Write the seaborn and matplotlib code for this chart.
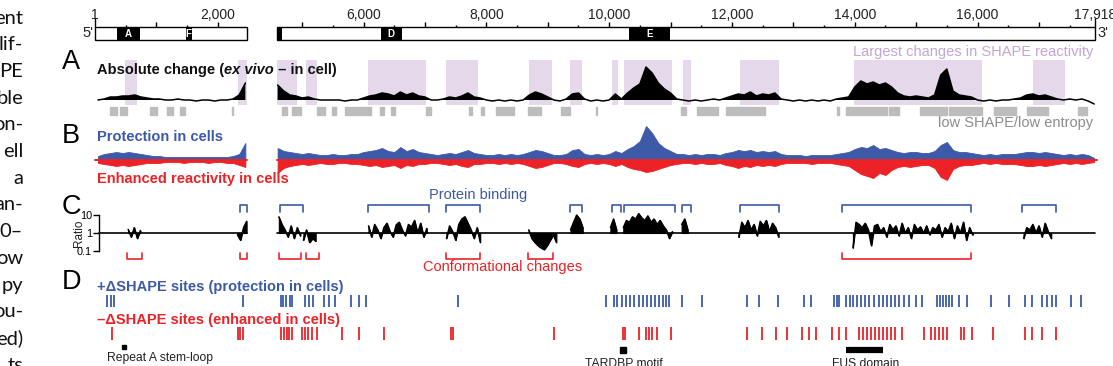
import numpy as np
import matplotlib
matplotlib.use("Agg")
import matplotlib.pyplot as plt
from matplotlib.patches import Rectangle
from matplotlib.ticker import NullLocator
import seaborn as sns

sns.set_theme(style="white")
plt.rcParams['font.family'] = ['Liberation Sans', 'DejaVu Sans']

BLUE = '#3c5aa8'
RED = '#ec2227'
PURPLE = '#e4d8ea'
PURPLE_TXT = '#c3a5d6'
GREY = '#bdbdbd'
GREY_TXT = '#8c8c8c'

# ---- data, positions in nucleotides ----
mapped_start = [1, 4585]
mapped_end = [2470, 17918]

domain_name = ['A', 'F', '', 'D', 'E']
domain_start = [358, 1475, 4585, 6277, 10315]
domain_end = [732, 1582, 4665, 6620, 10997]

scale_labels = [1, 2000, 6000, 8000, 10000, 12000, 14000, 16000, 17918]

# largest changes in SHAPE reactivity (purple boxes)
large_start = [490, 2330, 4585, 5055, 6080, 7345, 8690, 9370, 10040, 10235, 11195, 12125, 13990, 16910]
large_end = [680, 2470, 4910, 5235, 7010, 7870, 9065, 9550, 10150, 11030, 11325, 12760, 16080, 17430]

# low SHAPE / low entropy (grey bars)
low_start = [245, 405, 895, 1170, 1380, 2225, 4665, 4830, 5235, 5480, 5705, 6275, 6440, 7025, 7710,
             7920, 8165, 8685, 9210, 9780, 11165, 11425, 11895, 12300, 13705, 13850, 14550, 15070,
             15530, 15740, 16260, 16800, 17630]
low_end = [360, 520, 1010, 1270, 1465, 2245, 4745, 4975, 5380, 5545, 6115, 6325, 6520, 7105, 7760,
           7955, 8445, 8885, 9370, 9795, 11245, 11780, 12270, 12545, 13740, 14520, 14715, 15495,
           15725, 16065, 16620, 17155, 17790]

# profiles sampled every 100 nt
pos_left = np.arange(50, 2500, 100)
pos_right = np.arange(4600, 18000, 100)

abs_left = [5, 6, 8, 8, 9, 9, 10, 8, 7, 6, 6, 5, 5, 6, 5, 5, 4, 5, 5, 4, 5, 5, 6, 10, 22]
abs_right = [20, 14, 10, 9, 7, 8, 6, 5, 5, 5,
             5, 4, 5, 5, 7, 9, 10, 12, 11, 9,
             13, 10, 12, 9, 8, 5, 5, 6, 8, 7,
             9, 12, 8, 7, 5, 4, 5, 4, 5, 4,
             5, 10, 13, 11, 8, 5, 4, 6, 11, 12,
             6, 4, 5, 4, 5, 11, 6, 12, 17, 21,
             38, 32, 22, 16, 12, 6, 5, 4, 5, 4,
             5, 6, 5, 7, 9, 11, 10, 13, 9, 11,
             10, 12, 6, 5, 4, 5, 4, 5, 4, 5,
             4, 6, 7, 8, 18, 24, 21, 23, 20, 22,
             18, 12, 9, 8, 9, 8, 7, 10, 30, 36,
             14, 10, 9, 8, 5, 4, 5, 4, 5, 5,
             6, 7, 10, 11, 9, 10, 8, 6, 5, 6,
             5, 6, 4, 1]

prot_left = [4, 6, 7, 8, 7, 8, 7, 6, 5, 4, 4, 3, 3, 3, 3, 3, 3, 3, 3, 3, 3, 3, 4, 6, 17]
prot_right = [12, 9, 8, 7, 6, 7, 6, 5, 5, 6,
              5, 5, 6, 6, 8, 9, 10, 12, 9, 8,
              13, 9, 11, 8, 7, 6, 5, 6, 7, 6,
              8, 10, 7, 6, 5, 5, 6, 5, 6, 5,
              6, 8, 10, 9, 7, 5, 5, 6, 10, 11,
              6, 5, 6, 5, 6, 9, 7, 11, 14, 19,
              34, 27, 17, 12, 9, 6, 6, 5, 6, 5,
              6, 6, 5, 7, 8, 10, 9, 10, 8, 9,
              8, 9, 6, 5, 5, 5, 4, 5, 5, 5,
              5, 6, 7, 8, 11, 13, 12, 15, 11, 12,
              10, 8, 7, 8, 8, 7, 7, 9, 15, 18,
              10, 8, 8, 7, 6, 5, 6, 5, 6, 6,
              6, 7, 8, 8, 7, 8, 7, 6, 5, 6,
              5, 6, 5, 2]

enh_left = [3, 4, 5, 6, 5, 6, 5, 4, 3, 3, 3, 2, 2, 2, 3, 2, 2, 2, 3, 2, 2, 3, 3, 5, 7]
enh_right = [13, 8, 6, 5, 4, 5, 4, 3, 4, 4,
             3, 3, 4, 4, 5, 6, 5, 7, 6, 5,
             8, 5, 6, 4, 4, 3, 3, 4, 5, 4,
             6, 7, 4, 4, 3, 3, 4, 3, 4, 3,
             4, 6, 8, 7, 5, 3, 3, 4, 6, 7,
             4, 3, 4, 3, 4, 6, 4, 7, 9, 10,
             12, 11, 9, 7, 5, 4, 3, 3, 4, 3,
             4, 4, 3, 5, 6, 8, 6, 7, 5, 6,
             5, 6, 4, 3, 3, 3, 3, 4, 3, 3,
             3, 4, 5, 6, 10, 14, 16, 18, 13, 15,
             10, 7, 6, 7, 6, 5, 5, 8, 17, 20,
             9, 6, 5, 5, 4, 3, 4, 3, 4, 4,
             4, 5, 6, 6, 5, 6, 5, 4, 3, 4,
             3, 4, 3, 2]

# ex vivo / in cell ratio, segments sampled every 50 nt
ratio_start = [540, 2320, 4620, 5020, 6080, 7350, 8690, 9370, 10020, 10230, 11180, 12110, 13970, 16750]
ratio_vals = [
    [1.6, 0.6, 2.0, 0.5, 1.4],
    [0.8, 0.4, 2.0, 4.5],
    [8.0, 3.0, 1.5, 0.6, 2.5, 0.5, 2.0, 0.7],
    [0.4, 1.5, 0.3, 0.5, 0.35],
    [2.5, 0.6, 3.0, 1.5, 0.5, 2.0, 3.5, 1.2, 0.6, 2.8, 4.0, 1.5, 0.7, 3.0, 2.2, 5.0, 1.0, 3.5, 0.6, 1.8],
    [0.5, 2.5, 1.2, 0.4, 3.0, 6.0, 8.0, 3.5, 1.5, 0.5, 2.0, 0.3],
    [1.5, 0.5, 0.3, 0.2, 0.15, 0.12, 0.2, 0.4, 0.8, 0.3],
    [1.5, 4.0, 10.0, 6.0, 2.0],
    [2.0, 6.0, 1.5],
    [2.0, 5.0, 4.0, 8.0, 6.0, 12.0, 7.0, 5.0, 9.0, 4.0, 6.0, 3.0, 5.0, 2.5, 1.5, 0.5, 1.2],
    [3.0, 6.0, 1.5],
    [0.6, 4.0, 2.0, 5.0, 1.5, 3.0, 0.7, 4.5, 2.5, 5.0, 1.2, 3.5, 2.0, 0.6],
    [0.15, 4.0, 3.0, 2.0, 3.5, 1.5, 0.2, 2.5, 3.0, 1.2, 2.0, 0.6, 3.0, 1.5, 2.5, 0.7, 3.5, 1.0, 2.0, 0.5,
     3.0, 1.5, 2.2, 1.0, 2.5, 0.8, 2.0, 1.5, 3.0, 0.6, 2.0, 1.2, 3.5, 0.5, 2.5, 1.0, 4.0, 0.4, 2.0, 0.8],
    [0.5, 2.0, 1.5, 3.0, 1.0, 2.5, 0.6, 3.5, 1.2, 0.5],
]

bind_start = [2360, 4640, 6080, 7350, 9370, 10040, 10235, 11180, 12130, 13790, 16720]
bind_end = [2470, 5015, 7060, 7900, 9550, 10190, 11065, 11340, 12760, 15890, 17270]
conf_start = [520, 2370, 4630, 5055, 7350, 8670, 13790]
conf_end = [765, 2470, 4975, 5280, 7900, 9090, 15890]

prot_sites = [195, 260, 310, 2405, 4648, 4680, 4729, 4795, 4827, 5039, 5104, 5169, 5348, 5430, 5528,
              5788, 5919, 6033, 7531, 9942, 10072, 10121, 10202, 10267, 10332, 10397, 10479, 10545,
              10610, 10675, 10740, 10805, 10870, 10919, 10968, 11180, 11506, 12239, 12435, 12744,
              13168, 13282, 13656, 13705, 13738, 13852, 13917, 13966, 14031, 14096, 14161, 14226,
              14308, 14389, 14454, 14520, 14585, 14650, 14715, 14797, 14878, 14992, 15090, 15334,
              15383, 15432, 15481, 15530, 15579, 15693, 15823, 16214, 16507, 16768, 16882, 17045,
              17126, 17208, 17273, 17517, 17680]
enh_sites = [275, 2325, 2358, 2405, 4648, 4697, 4746, 4778, 4827, 4990, 5039, 5088, 5153, 5234, 5642,
             5919, 6326, 7417, 7450, 9095, 10219, 10251, 10479, 10594, 10643, 10692, 10773, 11001,
             12239, 12483, 12711, 12891, 13135, 13249, 13363, 13624, 13738, 13852, 14064, 14129,
             14194, 14259, 14324, 14389, 14454, 14520, 14585, 14650, 14764, 15122, 15236, 15301,
             15366, 15432, 15497, 15725, 15774, 15904, 16246, 16768, 16882, 17045, 17273]

repeatA_loop = 470
tardbp_motif = 10219
fus_start, fus_end = 13852, 14454

body_lines = ["ent", "lif-", "PE", "ble", "on-", "ell", "a", "an-", "0–", "ow", "py", "ou-", "ed)", "ts"]

# ---- layout ----
W, H = 1113, 366
NT_PX = 0.0614   # px per nt
GAP = 1625       # unmapped stretch squeezed out between the two segments


def gx(nt):
    nt = np.asarray(nt, dtype=float)
    return np.where(nt < 3000, nt, nt - GAP)


XL = (1 - 95 / NT_PX, 1 + (W - 95) / NT_PX)

fig = plt.figure(figsize=(W / 100, H / 100), dpi=100)


def band(top, bottom):
    ax = fig.add_axes([0, 1 - bottom / H, 1, (bottom - top) / H])
    ax.set_facecolor('none')
    return ax


def ftext(x, y, s, **kw):
    return fig.text(x / W, 1 - y / H, s, **kw)


# scale bar
ax0 = band(0, 45)
for s, e in zip(mapped_start, mapped_end):
    ax0.add_patch(Rectangle((float(gx(s)), 27), float(gx(e) - gx(s)), 13, fill=False, lw=1.0, ec='black'))
    ticks = np.arange(500, 18000, 500)
    ticks = ticks[(ticks > s) & (ticks < e)]
    big = ticks[ticks % 1000 == 0]
    small = ticks[ticks % 1000 != 0]
    ax0.vlines(gx(big), 22, 27, color='black', lw=1)
    ax0.vlines(gx(small), 24.5, 27, color='black', lw=1)
ax0.vlines(gx([1, 17918]), 18, 27, color='black', lw=1)
for name, s, e in zip(domain_name, domain_start, domain_end):
    ax0.add_patch(Rectangle((float(gx(s)), 27), float(gx(e) - gx(s)), 13, color='black', lw=0))
    if name:
        ax0.text(float(gx((s + e) / 2)), 34, name, color='white', fontsize=7, fontweight='bold',
                 ha='center', va='center')
for v in scale_labels:
    ax0.text(float(gx(v)), 15, f"{v:,}", fontsize=10, ha='center', va='center', color='#222222')
ax0.set_ylim(45, 0)

# A: absolute change
axA = band(45, 120)
for s, e in zip(large_start, large_end):
    axA.fill_between(gx([s, e]), 0, 45, color=PURPLE, lw=0)
axA.broken_barh([(float(gx(s)), float(gx(e) - gx(s))) for s, e in zip(low_start, low_end)], (-10, 8),
                color=GREY)
for pos, vals in [(pos_left, abs_left), (pos_right, abs_right)]:
    x = gx(pos)
    v = np.array(vals, dtype=float)
    axA.fill_between(x, 5, v, where=v > 5, interpolate=True, color='black', lw=0)
    sns.lineplot(x=x, y=v, color='black', lw=1.1, ax=axA)
axA.set_ylim(-15, 60)

# B: protection / enhancement
axB = band(120, 185)
for pos, p, n, s, e in [(pos_left, prot_left, enh_left, 1, 2470), (pos_right, prot_right, enh_right, 4585, 17950)]:
    x = gx(pos)
    axB.fill_between(x, 0, np.array(p, float), color=BLUE, lw=0.6, ec=BLUE)
    axB.fill_between(x, 0, -np.array(n, float), color=RED, lw=0.6, ec=RED)
    axB.plot(gx([s, e]), [0, 0], color=RED, lw=1.4)
axB.set_ylim(-25, 40)


# C: ratio
def ratio_at(px):
    return 10 ** ((233 - px) / 18)


axC = band(185, 270)
axC.set_yscale('log')
spine_nt = 66
axC.plot(gx([spine_nt, 2470]), [1, 1], color='black', lw=1.2)
axC.plot(gx([4585, 17918]), [1, 1], color='black', lw=1.2)
for s0, vals in zip(ratio_start, ratio_vals):
    x = gx(s0 + 50 * np.arange(len(vals)))
    r = np.array(vals, dtype=float)
    axC.fill_between(x, 1, r, color='black', lw=0.8, ec='black')
    sns.lineplot(x=x, y=r, color='black', lw=1.0, ax=axC)
hi, lo = ratio_at(205), ratio_at(212)
for s, e in zip(bind_start, bind_end):
    axC.plot(gx([s, s, e, e]), [lo, hi, hi, lo], color=BLUE, lw=1.2)
top, bot = ratio_at(253), ratio_at(259)
for s, e in zip(conf_start, conf_end):
    axC.plot(gx([s, s, e, e]), [top, bot, bot, top], color=RED, lw=1.2)
axC.set_ylim(ratio_at(270), ratio_at(185))
for side in ['top', 'right', 'bottom']:
    axC.spines[side].set_visible(False)
axC.spines['left'].set_position(('data', float(gx(spine_nt))))
axC.spines['left'].set_bounds(0.1, 10)
axC.spines['left'].set_color('black')
axC.spines['left'].set_linewidth(1)
axC.set_yticks([0.1, 1, 10], ['0.1', '1', '10'])
axC.yaxis.set_minor_locator(NullLocator())
axC.tick_params(axis='y', labelsize=7.8, length=4, width=1, pad=1, direction='out', left=True,
                colors='black')
axC.set_xticks([])
axC.set_xlabel('')
axC.set_ylabel('')

# D: delta-SHAPE sites
axD = band(270, 366)
axD.vlines(gx(prot_sites), 295, 307, color=BLUE, lw=1.3)
axD.vlines(gx(enh_sites), 327, 340, color=RED, lw=1.3)
axD.plot(gx([repeatA_loop]), [347], marker='s', ms=3.5, color='black', ls='none')
axD.plot(gx([tardbp_motif]), [350], marker='s', ms=4, color='black', ls='none')
axD.plot(gx([fus_start, fus_end]), [350, 350], color='black', lw=4.5, solid_capstyle='butt')
axD.set_ylim(366, 270)

for ax in [ax0, axA, axB, axD]:
    ax.set_axis_off()
for ax in [ax0, axA, axB, axC, axD]:
    ax.set_xlim(*XL)

# texts
for i, s in enumerate(body_lines):
    ftext(23, 18 + 26.7 * i, s, fontsize=14.5, family=['Lato', 'DejaVu Sans'], ha='right', va='center',
          color='#111111')
for letter, y in zip('ABCD', [62, 136, 207, 282]):
    ftext(71, y, letter, fontsize=19.5, ha='center', va='center', color='black')

ftext(93, 33, "5'", fontsize=10.5, ha='right', va='center')
ftext(1097, 33, "3'", fontsize=10.5, ha='left', va='center')

ftext(1093, 52, "Largest changes in SHAPE reactivity", fontsize=10.5, color=PURPLE_TXT, ha='right', va='center')
t1 = ftext(97, 70, "Absolute change (", fontsize=10.5, fontweight='bold', ha='left', va='center', color='#111111')
t2 = axA.annotate("ex vivo", xy=(1, 0), xycoords=t1, fontsize=10.5, fontweight='bold', fontstyle='italic',
                  ha='left', va='bottom', color='#111111')
axA.annotate(" – in cell)", xy=(1, 0), xycoords=t2, fontsize=10.5, fontweight='bold', ha='left',
             va='bottom', color='#111111')
ftext(1093, 123, "low SHAPE/low entropy", fontsize=10.5, color=GREY_TXT, ha='right', va='center')

ftext(97, 137, "Protection in cells", fontsize=10.5, fontweight='bold', color=BLUE, ha='left', va='center')
ftext(97, 179, "Enhanced reactivity in cells", fontsize=10.5, fontweight='bold', color=RED, ha='left', va='center')

ftext(79, 233, "Ratio", fontsize=8.5, rotation=90, ha='center', va='center', color='#222222')
ftext(478, 195, "Protein binding", fontsize=10.5, color=BLUE, ha='center', va='center')
ftext(503, 267, "Conformational changes", fontsize=10.5, color=RED, ha='center', va='center')

ftext(97, 287, "+ΔSHAPE sites (protection in cells)", fontsize=10.5, fontweight='bold', color=BLUE,
      ha='left', va='center')
ftext(97, 320, "–ΔSHAPE sites (enhanced in cells)", fontsize=10.5, fontweight='bold', color=RED,
      ha='left', va='center')

ftext(107, 358, "Repeat A stem-loop", fontsize=8.7, color='#222222', ha='left', va='center')
ftext(624, 364, "TARDBP motif", fontsize=8.7, color='#222222', ha='center', va='center')
ftext(866, 364, "FUS domain", fontsize=8.7, color='#222222', ha='center', va='center')

fig.savefig('out.png', dpi=100)
